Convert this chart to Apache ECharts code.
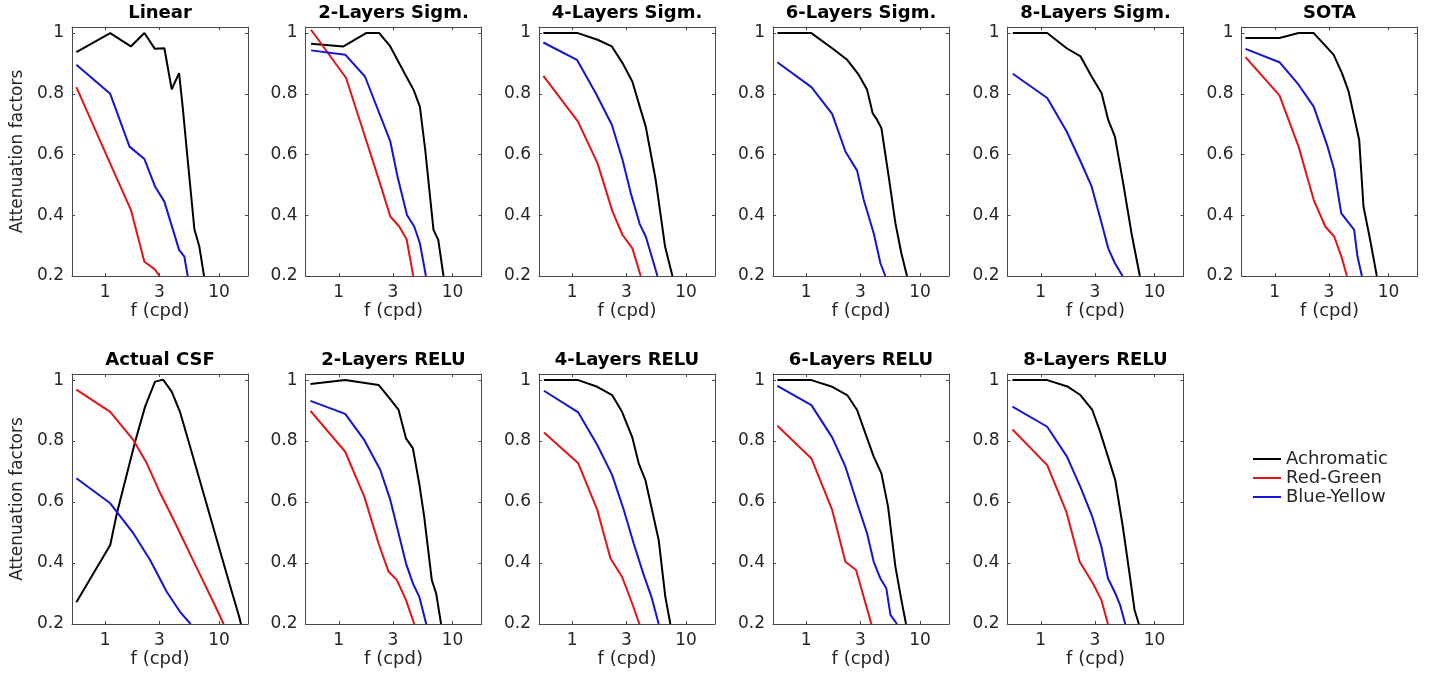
<!DOCTYPE html>
<html>
<head>
<meta charset="utf-8">
<title>Attenuation factors</title>
<script src="https://cdn.jsdelivr.net/npm/echarts@6.0.0/dist/echarts.min.js"></script>
<style>
  html, body { margin: 0; padding: 0; background: #fff; }
  #chart { width: 1434px; height: 674px; }
</style>
</head>
<body>
<div id="chart"></div>
<script>
// values: [frequency (cpd), attenuation factor]
const seriesNames = ['Achromatic', 'Red-Green', 'Blue-Yellow'];
const seriesColors = ['#000000', '#e31414', '#1414d4'];
const xTicks = [1, 3, 10];
const yTicks = [0.2, 0.4, 0.6, 0.8, 1];

const linearAchro = [[0.557,0.937],[1.106,1.0],[1.68,0.956],[2.21,1.0],[2.73,0.948],[3.31,0.95],[3.84,0.815],[4.46,0.868],[4.80,0.755],[5.38,0.56],[6.08,0.354],[6.72,0.297],[7.39,0.2]];
const linearRG = [[0.557,0.822],[1.106,0.57],[1.68,0.418],[2.21,0.247],[2.73,0.222],[3.0,0.2]];
const linearBY = [[0.557,0.896],[1.106,0.80],[1.635,0.626],[2.21,0.585],[2.74,0.495],[3.31,0.445],[4.46,0.286],[4.96,0.264],[5.31,0.2]];

const sig2Achro = [[0.571,0.965],[1.1,0.956],[1.74,1.0],[2.27,1.0],[2.84,0.956],[3.95,0.855],[4.55,0.813],[5.17,0.758],[5.76,0.615],[6.81,0.352],[7.5,0.319],[8.34,0.2]];
const sig2RG = [[0.571,1.011],[1.16,0.852],[1.74,0.648],[2.35,0.495],[2.84,0.396],[3.40,0.363],[3.95,0.321],[4.52,0.2]];
const sig2BY = [[0.571,0.943],[1.14,0.929],[1.70,0.857],[2.84,0.643],[3.29,0.527],[3.98,0.401],[4.61,0.363],[5.17,0.308],[5.84,0.2]];

const sig4Achro = [[0.557,1.0],[1.12,1.0],[1.67,0.978],[2.23,0.956],[2.77,0.901],[3.38,0.84],[4.0,0.747],[4.43,0.692],[5.42,0.516],[6.55,0.297],[7.6,0.2]];
const sig4RG = [[0.557,0.859],[1.12,0.709],[1.67,0.571],[2.26,0.412],[2.77,0.335],[3.38,0.291],[4.0,0.2]];
const sig4BY = [[0.557,0.969],[1.1,0.912],[1.61,0.802],[2.23,0.698],[2.77,0.582],[3.27,0.473],[3.92,0.371],[4.43,0.33],[4.9,0.275],[5.61,0.2]];

const sig6Achro = [[0.557,1.0],[1.11,1.0],[1.69,0.95],[2.29,0.912],[2.9,0.862],[3.43,0.813],[3.84,0.736],[4.2,0.714],[4.58,0.687],[5.31,0.527],[6.08,0.374],[6.86,0.275],[7.69,0.2]];
const sig6RG = [];
const sig6BY = [[0.557,0.904],[1.11,0.822],[1.69,0.734],[2.21,0.61],[2.80,0.547],[3.2,0.451],[3.92,0.341],[4.49,0.242],[4.96,0.2]];

const sig8Achro = [[0.568,1.0],[1.14,1.0],[1.69,0.95],[2.24,0.923],[2.8,0.857],[3.43,0.802],[3.92,0.714],[4.49,0.659],[5.31,0.505],[6.28,0.341],[7.44,0.2]];
const sig8RG = [];
const sig8BY = [[0.568,0.866],[1.14,0.786],[1.69,0.676],[2.21,0.582],[2.8,0.495],[3.43,0.374],[3.92,0.291],[4.49,0.242],[5.24,0.2]];

const sotaAchro = [[0.553,0.984],[1.1,0.984],[1.62,1.0],[2.2,1.0],[3.29,0.929],[3.9,0.868],[4.46,0.808],[5.53,0.648],[6.03,0.429],[6.9,0.319],[7.9,0.2]];
const sotaRG = [[0.553,0.921],[1.1,0.795],[1.62,0.626],[2.2,0.451],[2.78,0.363],[3.33,0.33],[3.9,0.258],[4.31,0.2]];
const sotaBY = [[0.553,0.948],[1.1,0.904],[1.62,0.83],[2.2,0.758],[2.88,0.632],[3.33,0.55],[3.84,0.407],[4.99,0.352],[5.34,0.264],[5.84,0.2]];

const csfAchro = [[0.557,0.271],[1.106,0.459],[1.266,0.563],[1.83,0.798],[2.24,0.913],[2.74,0.995],[3.1,1.0],[3.25,1.0],[3.84,0.962],[4.54,0.896],[5.56,0.783],[7.3,0.63],[9.54,0.478],[12.5,0.326],[15.1,0.222],[15.6,0.2]];
const csfRG = [[0.557,0.969],[1.106,0.896],[1.77,0.803],[2.32,0.727],[3.0,0.634],[4.0,0.541],[5.56,0.43],[7.3,0.339],[9.0,0.269],[11.0,0.2]];
const csfBY = [[0.557,0.678],[1.106,0.596],[1.77,0.497],[2.48,0.41],[3.47,0.306],[4.54,0.24],[5.64,0.2]];

const relu2Achro = [[0.564,0.987],[1.14,1.0],[2.24,0.984],[2.8,0.94],[3.36,0.902],[3.9,0.809],[4.49,0.776],[5.1,0.661],[5.64,0.552],[6.58,0.344],[7.18,0.301],[7.94,0.2]];
const relu2RG = [[0.564,0.899],[1.14,0.765],[1.68,0.617],[2.24,0.464],[2.74,0.372],[3.25,0.344],[3.9,0.279],[4.61,0.2]];
const relu2BY = [[0.564,0.932],[1.14,0.889],[1.68,0.803],[2.32,0.705],[2.84,0.607],[3.36,0.497],[3.9,0.399],[4.49,0.333],[5.1,0.29],[5.88,0.2]];

const relu4Achro = [[0.564,1.0],[1.13,1.0],[1.66,0.978],[2.24,0.951],[2.74,0.896],[3.36,0.814],[3.84,0.727],[4.4,0.672],[5.03,0.574],[5.76,0.475],[6.58,0.29],[7.29,0.2]];
const relu4RG = [[0.564,0.828],[1.13,0.727],[1.66,0.574],[2.17,0.415],[2.74,0.355],[3.36,0.268],[3.9,0.2]];
const relu4BY = [[0.564,0.965],[1.13,0.894],[1.66,0.787],[2.24,0.689],[2.84,0.574],[3.47,0.464],[4.25,0.361],[4.96,0.29],[5.76,0.2]];

const relu6Achro = [[0.557,1.0],[1.11,1.0],[1.69,0.978],[2.29,0.951],[2.8,0.902],[3.31,0.825],[3.92,0.749],[4.58,0.694],[5.24,0.585],[6.08,0.388],[6.86,0.279],[7.54,0.2]];
const relu6RG = [[0.557,0.85],[1.11,0.743],[1.69,0.574],[2.21,0.404],[2.74,0.377],[3.74,0.2]];
const relu6BY = [[0.557,0.981],[1.11,0.918],[1.69,0.812],[2.21,0.716],[2.8,0.596],[3.43,0.497],[3.92,0.404],[4.49,0.349],[5.06,0.317],[5.5,0.23],[6.28,0.2]];

const relu8Achro = [[0.564,1.0],[1.14,1.0],[1.74,0.978],[2.23,0.951],[2.84,0.902],[3.29,0.836],[3.9,0.749],[4.52,0.672],[5.27,0.519],[6.03,0.366],[6.68,0.246],[7.29,0.2]];
const relu8RG = [[0.564,0.838],[1.14,0.721],[1.68,0.568],[2.2,0.404],[2.88,0.333],[3.41,0.279],[3.9,0.2]];
const relu8BY = [[0.564,0.913],[1.14,0.847],[1.70,0.749],[2.23,0.65],[2.84,0.552],[3.41,0.454],[3.9,0.35],[4.52,0.301],[4.99,0.262],[5.53,0.2]];

const panels = [
  { title: 'Linear', row: 0, col: 0, curves: [linearAchro, linearRG, linearBY] },
  { title: '2-Layers Sigm.', row: 0, col: 1, curves: [sig2Achro, sig2RG, sig2BY] },
  { title: '4-Layers Sigm.', row: 0, col: 2, curves: [sig4Achro, sig4RG, sig4BY] },
  { title: '6-Layers Sigm.', row: 0, col: 3, curves: [sig6Achro, sig6RG, sig6BY] },
  { title: '8-Layers Sigm.', row: 0, col: 4, curves: [sig8Achro, sig8RG, sig8BY] },
  { title: 'SOTA', row: 0, col: 5, curves: [sotaAchro, sotaRG, sotaBY] },
  { title: 'Actual CSF', row: 1, col: 0, curves: [csfAchro, csfRG, csfBY] },
  { title: '2-Layers RELU', row: 1, col: 1, curves: [relu2Achro, relu2RG, relu2BY] },
  { title: '4-Layers RELU', row: 1, col: 2, curves: [relu4Achro, relu4RG, relu4BY] },
  { title: '6-Layers RELU', row: 1, col: 3, curves: [relu6Achro, relu6RG, relu6BY] },
  { title: '8-Layers RELU', row: 1, col: 4, curves: [relu8Achro, relu8RG, relu8BY] }
];

// layout of the small multiples (px)
const colLeft = [72, 305.5, 539, 773, 1007.5, 1241.5];
const rowTop = [27, 374];
const rowHeight = [249, 250];
const boxWidth = 176;

const FONT = 'DejaVu Sans';
const TEXT = '#262626';
const BOX = '#4a4a4a';

const chart = echarts.init(document.getElementById('chart'));

const titles = [], grids = [], xAxes = [], yAxes = [], series = [];

panels.forEach((p, i) => {
  const left = colLeft[p.col], top = rowTop[p.row];
  grids.push({ left: left, top: top, width: boxWidth, height: rowHeight[p.row], containLabel: false });
  titles.push({
    text: p.title, left: left + boxWidth / 2, top: top - 23, textAlign: 'center', padding: 0,
    textStyle: { fontFamily: FONT, fontSize: 18, fontWeight: 'bold', color: '#000' }
  });

  const xBase = {
    type: 'log', logBase: 10, gridIndex: i, min: 0.51, max: 18,
    axisLine: { show: true, onZero: false, lineStyle: { color: BOX, width: 1 } },
    axisTick: { show: true, inside: true, length: 3, customValues: xTicks, lineStyle: { color: BOX } },
    splitLine: { show: false }, minorTick: { show: false }
  };
  xAxes.push(Object.assign({}, xBase, {
    position: 'bottom',
    axisLabel: { customValues: xTicks, margin: 8, fontFamily: FONT, fontSize: 17, color: TEXT },
    name: 'f (cpd)', nameLocation: 'middle', nameGap: 26,
    nameTextStyle: { fontFamily: FONT, fontSize: 18, color: TEXT }
  }));
  xAxes.push(Object.assign({}, xBase, { position: 'top', axisLabel: { show: false } }));

  const yBase = {
    type: 'value', gridIndex: i, min: 0.2, max: 1.02,
    axisLine: { show: true, onZero: false, lineStyle: { color: BOX, width: 1 } },
    axisTick: { show: true, inside: true, length: 3, customValues: yTicks, lineStyle: { color: BOX } },
    splitLine: { show: false }
  };
  yAxes.push(Object.assign({}, yBase, {
    position: 'left',
    axisLabel: { customValues: yTicks, margin: 8, fontFamily: FONT, fontSize: 17, color: TEXT },
    name: p.col === 0 ? 'Attenuation factors' : '', nameLocation: 'middle', nameGap: 46, nameRotate: 90,
    nameTextStyle: { fontFamily: FONT, fontSize: 17, color: TEXT }
  }));
  yAxes.push(Object.assign({}, yBase, { position: 'right', axisLabel: { show: false } }));

  p.curves.forEach((data, k) => {
    series.push({
      name: seriesNames[k], type: 'line', data: data,
      xAxisIndex: 2 * i, yAxisIndex: 2 * i,
      showSymbol: false, symbol: 'none', clip: true,
      lineStyle: { color: seriesColors[k], width: 2 },
      itemStyle: { color: seriesColors[k] },
      emphasis: { disabled: true }
    });
  });
});

chart.setOption({
  animation: false,
  backgroundColor: '#fff',
  title: titles,
  grid: grids,
  xAxis: xAxes,
  yAxis: yAxes,
  legend: {
    data: seriesNames, orient: 'vertical', left: 1253, top: 449.5, padding: 0,
    icon: 'rect', itemWidth: 28, itemHeight: 2, itemGap: 0,
    textStyle: { fontFamily: FONT, fontSize: 18, lineHeight: 19, color: TEXT }
  },
  series: series
});
</script>
</body>
</html>
